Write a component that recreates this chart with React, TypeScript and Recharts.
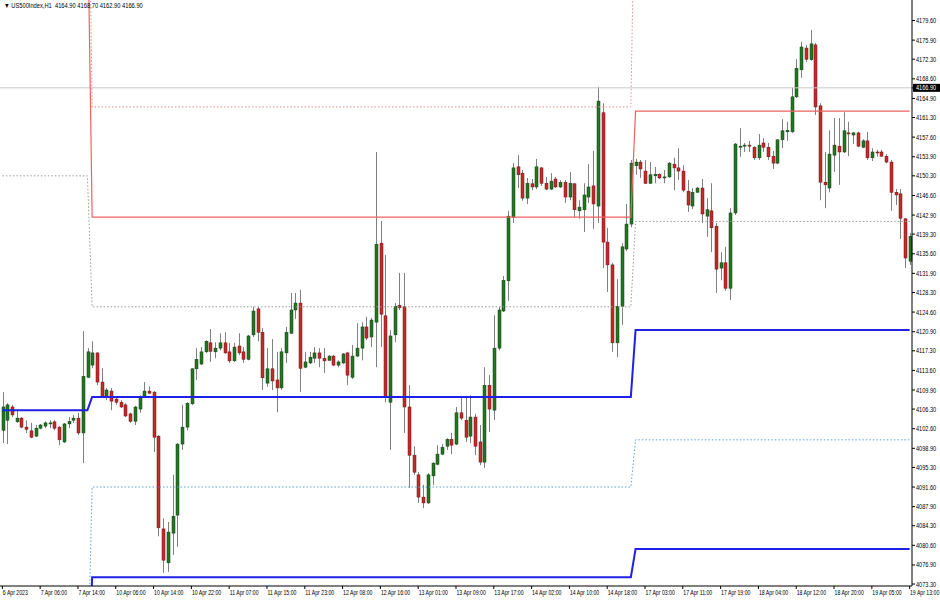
import React from 'react';
import { ComposedChart, Bar, Line, XAxis, YAxis, ReferenceLine } from 'recharts';

// ---- H1 candles (bar 0 .. 192) ----
const OPEN = [
  4102.3, 4104.2, 4106.7, 4103.9, 4104.6, 4102.9, 4102.2, 4101.2, 4102.7, 4103.1,
  4103.5, 4103.9, 4102.9, 4100.1, 4103.5, 4104.2, 4104.6, 4101.8, 4112.3, 4114.6,
  4116.9, 4111.4, 4108.6, 4109.7, 4108.2, 4107.6, 4107.1, 4105.4, 4104.0, 4106.3,
  4108.8, 4109.7, 4109.5, 4101.2, 4083.7, 4077.3, 4082.9, 4086.3, 4099.7, 4102.9,
  4107.3, 4113.9, 4114.8, 4117.1, 4118.8, 4117.1, 4117.8, 4118.8, 4117.1, 4115.4,
  4118.2, 4117.1, 4115.7, 4120.3, 4125.2, 4120.8, 4111.2, 4113.9, 4111.8, 4110.3,
  4116.9, 4120.6, 4125.0, 4126.3, 4114.2, 4115.0, 4115.9, 4116.9, 4115.9, 4115.5,
  4116.3, 4114.6, 4115.0, 4116.9, 4112.3, 4116.3, 4117.8, 4121.8, 4119.9, 4122.7,
  4137.6, 4123.9, 4107.6, 4120.3, 4125.9, 4125.6, 4106.7, 4097.6, 4093.9, 4089.7,
  4088.6, 4093.7, 4095.9, 4097.8, 4099.3, 4100.6, 4099.7, 4105.6, 4104.2, 4101.2,
  4104.8, 4100.1, 4096.3, 4110.8, 4106.1, 4117.8, 4124.8, 4130.5, 4142.5, 4152.0,
  4150.8, 4146.1, 4148.8, 4148.2, 4151.8, 4148.9, 4147.8, 4149.7, 4148.2, 4149.1,
  4146.3, 4148.8, 4143.7, 4143.9, 4146.3, 4148.4, 4144.6, 4162.2, 4137.8, 4133.5,
  4118.8, 4125.7, 4136.5, 4141.2, 4152.2, 4152.9, 4151.2, 4148.9, 4150.3, 4150.6,
  4149.9, 4150.1, 4152.5, 4151.8, 4151.2, 4147.4, 4144.6, 4147.2, 4148.0, 4142.7,
  4143.7, 4140.8, 4132.9, 4133.9, 4129.1, 4143.3, 4155.7, 4155.9, 4156.1, 4155.7,
  4153.7, 4156.5, 4155.7, 4154.0, 4152.7, 4157.1, 4158.6, 4158.6, 4165.2, 4170.3,
  4174.4, 4172.2, 4175.0, 4163.5, 4149.1, 4148.0, 4154.2, 4155.9, 4154.8, 4158.4,
  4158.0, 4158.4, 4155.7, 4156.9, 4153.7, 4154.8, 4154.8, 4154.0, 4152.9, 4147.2,
  4146.9, 4142.2, 4134.2,
];
const HIGH = [
  4109.5, 4107.4, 4107.1, 4106.1, 4104.8, 4104.2, 4103.7, 4103.3, 4103.5, 4104.0,
  4104.2, 4104.2, 4103.1, 4103.7, 4104.8, 4105.2, 4105.6, 4121.0, 4117.8, 4119.1,
  4117.0, 4114.0, 4110.3, 4110.3, 4108.6, 4108.0, 4107.4, 4105.6, 4106.9, 4108.9,
  4111.4, 4110.6, 4109.7, 4101.4, 4085.7, 4085.0, 4093.9, 4099.9, 4107.1, 4107.6,
  4114.0, 4117.8, 4118.0, 4119.3, 4121.4, 4118.9, 4120.6, 4120.8, 4118.8, 4118.8,
  4120.6, 4118.0, 4120.3, 4125.6, 4125.6, 4121.6, 4117.8, 4119.5, 4117.1, 4117.8,
  4121.8, 4128.2, 4128.2, 4128.8, 4117.1, 4117.1, 4118.0, 4117.8, 4117.8, 4116.5,
  4116.5, 4115.5, 4116.9, 4117.1, 4118.4, 4122.5, 4122.7, 4123.7, 4123.5, 4154.8,
  4141.8, 4135.4, 4121.2, 4126.3, 4132.0, 4132.0, 4110.8, 4099.3, 4094.4, 4092.0,
  4094.2, 4096.3, 4099.5, 4099.7, 4100.8, 4101.8, 4106.7, 4108.8, 4108.4, 4108.9,
  4105.4, 4103.3, 4114.2, 4112.7, 4124.0, 4125.6, 4131.4, 4143.7, 4152.7, 4154.2,
  4151.4, 4149.9, 4149.7, 4153.5, 4152.0, 4150.1, 4150.8, 4150.1, 4149.5, 4149.5,
  4151.0, 4148.9, 4145.7, 4148.9, 4152.5, 4155.0, 4167.1, 4164.0, 4140.5, 4133.9,
  4130.8, 4137.6, 4145.0, 4153.3, 4153.5, 4153.3, 4153.3, 4152.9, 4152.0, 4150.8,
  4151.4, 4152.9, 4153.7, 4155.5, 4152.3, 4149.5, 4148.0, 4148.2, 4149.7, 4146.1,
  4148.9, 4141.4, 4135.9, 4136.9, 4144.2, 4156.5, 4159.3, 4156.5, 4156.9, 4155.9,
  4158.2, 4157.4, 4156.5, 4155.0, 4157.2, 4161.0, 4160.5, 4166.9, 4172.3, 4175.6,
  4175.0, 4177.8, 4175.4, 4164.0, 4154.8, 4158.9, 4161.2, 4161.2, 4162.3, 4160.5,
  4158.6, 4158.6, 4157.2, 4158.6, 4155.5, 4155.2, 4155.2, 4154.4, 4153.3, 4147.8,
  4147.8, 4142.3, 4139.5,
];
const LOW = [
  4099.9, 4099.7, 4104.8, 4103.7, 4102.7, 4101.8, 4100.8, 4101.0, 4102.5, 4102.7,
  4102.7, 4102.3, 4099.5, 4099.9, 4102.7, 4103.7, 4101.4, 4096.1, 4112.2, 4114.0,
  4110.8, 4108.4, 4108.0, 4106.1, 4107.1, 4106.5, 4104.8, 4103.7, 4103.3, 4105.6,
  4108.4, 4109.1, 4098.2, 4082.3, 4075.4, 4075.6, 4078.8, 4080.3, 4098.6, 4102.3,
  4107.1, 4111.8, 4114.6, 4116.9, 4115.2, 4115.9, 4117.4, 4116.7, 4115.0, 4115.2,
  4116.5, 4115.0, 4115.5, 4119.9, 4119.1, 4109.9, 4110.5, 4109.9, 4105.7, 4109.9,
  4115.0, 4120.5, 4123.3, 4109.5, 4114.0, 4114.8, 4115.0, 4114.2, 4113.1, 4115.4,
  4114.4, 4114.2, 4114.8, 4110.8, 4112.0, 4116.1, 4115.5, 4119.3, 4118.0, 4114.2,
  4118.0, 4107.6, 4098.6, 4118.9, 4125.0, 4101.8, 4091.4, 4093.9, 4088.6, 4087.6,
  4088.4, 4092.0, 4095.7, 4097.6, 4098.6, 4097.8, 4099.5, 4104.2, 4100.1, 4099.9,
  4097.6, 4095.7, 4095.2, 4102.0, 4104.2, 4117.4, 4124.6, 4126.7, 4141.4, 4148.0,
  4145.6, 4145.0, 4147.6, 4147.8, 4148.4, 4147.6, 4147.6, 4148.0, 4148.0, 4145.2,
  4145.7, 4142.5, 4142.2, 4139.7, 4145.2, 4140.3, 4141.4, 4132.9, 4128.4, 4117.1,
  4116.1, 4122.2, 4136.1, 4140.6, 4150.5, 4149.9, 4148.8, 4148.8, 4148.9, 4149.7,
  4148.9, 4149.9, 4147.6, 4149.5, 4147.2, 4143.5, 4144.0, 4147.1, 4141.4, 4138.8,
  4135.9, 4128.2, 4130.6, 4128.6, 4126.9, 4142.9, 4153.9, 4154.8, 4154.8, 4153.3,
  4153.3, 4154.8, 4153.3, 4151.6, 4152.5, 4155.5, 4156.9, 4158.4, 4165.0, 4168.8,
  4171.8, 4172.0, 4161.8, 4145.7, 4144.2, 4147.2, 4151.0, 4148.6, 4154.6, 4154.0,
  4156.3, 4155.7, 4155.5, 4153.3, 4153.1, 4153.9, 4153.9, 4152.7, 4143.7, 4144.8,
  4138.4, 4132.9, 4133.5,
];
const CLOSE = [
  4106.7, 4107.1, 4105.2, 4104.6, 4102.9, 4102.5, 4101.0, 4102.7, 4103.3, 4103.7,
  4103.7, 4102.7, 4100.5, 4103.5, 4104.0, 4104.6, 4101.8, 4112.5, 4117.1, 4116.9,
  4111.4, 4108.6, 4109.9, 4107.8, 4107.6, 4106.7, 4105.0, 4104.0, 4106.7, 4108.4,
  4109.7, 4109.3, 4101.0, 4083.9, 4077.8, 4083.1, 4086.1, 4099.7, 4102.9, 4107.4,
  4113.9, 4115.7, 4117.1, 4119.1, 4117.2, 4117.8, 4118.8, 4116.9, 4115.4, 4118.0,
  4116.9, 4115.7, 4120.1, 4124.8, 4120.8, 4112.2, 4113.9, 4111.6, 4110.3, 4117.1,
  4120.8, 4125.0, 4126.3, 4114.0, 4115.2, 4116.1, 4116.9, 4115.9, 4115.4, 4116.3,
  4114.6, 4115.2, 4116.7, 4112.7, 4116.3, 4117.8, 4121.8, 4119.7, 4123.1, 4137.4,
  4124.2, 4108.6, 4120.1, 4125.7, 4125.4, 4106.7, 4097.6, 4094.4, 4089.7, 4088.6,
  4093.9, 4096.1, 4097.8, 4099.1, 4100.6, 4099.5, 4105.6, 4104.6, 4101.0, 4104.8,
  4099.3, 4096.3, 4110.8, 4106.3, 4117.8, 4125.0, 4130.6, 4142.7, 4151.8, 4150.5,
  4146.1, 4148.9, 4148.2, 4152.0, 4148.9, 4147.8, 4149.3, 4148.2, 4149.1, 4146.3,
  4148.9, 4143.9, 4144.4, 4146.7, 4148.2, 4145.0, 4164.4, 4137.8, 4133.5, 4118.8,
  4125.7, 4136.9, 4141.2, 4152.7, 4152.9, 4151.6, 4148.9, 4150.5, 4150.6, 4149.9,
  4150.1, 4152.7, 4151.8, 4151.2, 4147.6, 4144.8, 4147.2, 4148.0, 4143.1, 4143.9,
  4140.5, 4132.7, 4133.9, 4129.1, 4143.3, 4156.3, 4155.9, 4156.1, 4155.9, 4153.7,
  4156.1, 4155.7, 4153.9, 4152.7, 4157.1, 4158.8, 4158.9, 4165.2, 4170.6, 4174.6,
  4172.3, 4175.2, 4163.3, 4149.1, 4148.6, 4154.4, 4156.1, 4154.8, 4158.8, 4158.2,
  4158.4, 4155.9, 4156.9, 4153.7, 4154.8, 4154.7, 4154.0, 4152.9, 4147.2, 4146.7,
  4142.3, 4134.8, 4138.9,
];

// ---- time axis labels (one every 8 bars) ----
const X_LABELS = [
  '6 Apr 2023', '7 Apr 06:00', '7 Apr 14:00', '10 Apr 06:00', '10 Apr 14:00',
  '10 Apr 22:00', '11 Apr 07:00', '11 Apr 15:00', '11 Apr 23:00', '12 Apr 08:00',
  '12 Apr 16:00', '13 Apr 01:00', '13 Apr 09:00', '13 Apr 17:00', '14 Apr 02:00',
  '14 Apr 10:00', '14 Apr 18:00', '17 Apr 03:00', '17 Apr 11:00', '17 Apr 19:00',
  '18 Apr 04:00', '18 Apr 12:00', '18 Apr 20:00', '19 Apr 05:00', '19 Apr 13:00',
];
const X_LABEL_STEP = 8;

// ---- price scale ----
const Y_TICKS = [
  4179.6, 4175.9, 4172.3, 4168.6, 4164.9, 4161.3, 4157.6, 4153.9, 4150.3, 4146.6,
  4142.9, 4139.3, 4135.6, 4131.9, 4128.3, 4124.6, 4120.9, 4117.3, 4113.6, 4109.9,
  4106.3, 4102.6, 4098.9, 4095.3, 4091.6, 4087.9, 4084.3, 4080.6, 4076.9, 4073.3,
];
const Y_DOMAIN = [4072.93, 4183.47];
const BID = 4166.9;
const HEADER = 'US500Index,H1  4164.90 4168.70 4162.90 4166.90';

// ---- indicator levels (periods start at these bars) ----
const LEVEL_START = [0, 19, 134];
const RED_SOLID = [4203.0, 4142.5, 4162.5];
const RED_DOT = [4230.0, 4163.3, 4215.0];
const GREY_DOT = [4150.3, 4125.6, 4141.7];
const BLUE_SOLID = [4106.1, 4108.6, 4121.2];
const BLUE_DOT = [4055.0, 4091.6, 4100.5];
const BLUE_LOW = [4050.0, 4074.6, 4079.9];

function levelAt(levels: number[], i: number) {
  let k = 0;
  for (let j = 0; j < LEVEL_START.length; j++) if (i >= LEVEL_START[j]) k = j;
  return levels[k];
}

const data = OPEN.map((o, i) => ({
  i,
  open: o,
  high: HIGH[i],
  low: LOW[i],
  close: CLOSE[i],
  range: [LOW[i], HIGH[i]],
  redSolid: levelAt(RED_SOLID, i),
  redDot: levelAt(RED_DOT, i),
  greyDot: levelAt(GREY_DOT, i),
  blueSolid: levelAt(BLUE_SOLID, i),
  blueDot: levelAt(BLUE_DOT, i),
  blueLow: levelAt(BLUE_LOW, i),
}));

const X_TICKS = X_LABELS.map((_, k) => k * X_LABEL_STEP);

const FONT = '"Liberation Sans", Arial, sans-serif';
const BULL = '#237523';
const BULL_EDGE = '#124012';
const BEAR = '#c42a2a';
const BEAR_EDGE = '#6e1414';
const WICK = '#808080';

const Candle = (props: any) => {
  const { x, y, width, height, payload } = props;
  if (!payload) return null;
  const { open, close, high, low } = payload;
  const top = Math.min(y, y + height);
  const h = Math.abs(height);
  const cx = Math.round(x + width / 2) + 0.5;
  const ppu = high > low ? h / (high - low) : 0;
  const bTop = top + (high - Math.max(open, close)) * ppu;
  const bH = Math.max(Math.abs(open - close) * ppu, 1);
  const up = close >= open;
  return (
    <g>
      <line x1={cx} x2={cx} y1={top} y2={top + h} stroke={WICK} strokeWidth={1} />
      <rect
        x={cx - 1.5}
        y={bTop}
        width={3}
        height={bH}
        fill={up ? BULL : BEAR}
        stroke={up ? BULL_EDGE : BEAR_EDGE}
        strokeWidth={0.5}
      />
    </g>
  );
};

const XTick = (props: any) => {
  const { x, y, payload } = props;
  const idx = Math.round(payload.value / X_LABEL_STEP);
  const label = X_LABELS[idx];
  if (label === undefined) return null;
  const tx = Math.min(x + 0.5, 910);
  return (
    <g>
      <line x1={x} x2={x} y1={y - 2} y2={y + 1} stroke="#000" strokeWidth={1} />
      <text
        transform={`translate(${tx},${y + 6.5}) scale(0.74,1)`}
        fontSize={7}
        fontFamily={FONT}
        fill="#000"
      >
        {label}
      </text>
    </g>
  );
};

const YTick = (props: any) => {
  const { x, y, payload } = props;
  const v = payload.value as number;
  const isBid = Math.abs(v - BID) < 0.001;
  return (
    <g>
      {isBid && <rect x={x - 3} y={y - 4} width={940 - x + 3} height={8} fill="#000" />}
      <text
        transform={`translate(${x},${y + 2.5}) scale(0.8,1)`}
        fontSize={7}
        fontFamily={FONT}
        fill={isBid ? '#fff' : '#000'}
      >
        {v.toFixed(2)}
      </text>
    </g>
  );
};

const lineCommon = { type: 'linear' as const, dot: false, activeDot: false, isAnimationActive: false, legendType: 'none' as const };

export default function App() {
  return (
    <div style={{ position: 'absolute', left: 0, top: 0, width: 940, height: 600, background: '#fff' }}>
      <ComposedChart
        width={940}
        height={600}
        data={data}
        margin={{ top: 0, right: 0, bottom: 0, left: 0 }}
        barCategoryGap={0}
        accessibilityLayer={false}
      >
        <XAxis
          dataKey="i"
          type="category"
          ticks={X_TICKS}
          interval={0}
          height={14}
          tickSize={2}
          tickMargin={0}
          tickLine={false}
          axisLine={{ stroke: '#000', strokeWidth: 1 }}
          tick={<XTick />}
        />
        <YAxis
          orientation="right"
          width={28}
          type="number"
          domain={Y_DOMAIN}
          allowDataOverflow
          ticks={[...Y_TICKS, BID]}
          interval={0}
          tickSize={3}
          tickMargin={1}
          tickLine={{ stroke: '#000' }}
          axisLine={{ stroke: '#000', strokeWidth: 1 }}
          tick={<YTick />}
        />
        <ReferenceLine y={BID} stroke="#c8c8c8" strokeWidth={1} />
        <Line dataKey="greyDot" {...lineCommon} stroke="#9a9a9a" strokeWidth={1} strokeDasharray="1.5 2" />
        <Line dataKey="redDot" {...lineCommon} stroke="#f08a8a" strokeWidth={1} strokeDasharray="1.5 2" />
        <Line dataKey="redSolid" {...lineCommon} stroke="#f06262" strokeWidth={1.2} />
        <Line dataKey="blueDot" {...lineCommon} stroke="#5b9fe0" strokeWidth={1} strokeDasharray="1.5 2" />
        <Line dataKey="blueSolid" {...lineCommon} stroke="#2020e6" strokeWidth={2} />
        <Line dataKey="blueLow" {...lineCommon} stroke="#2020e6" strokeWidth={2} />
        <Bar dataKey="range" barSize={3} shape={<Candle />} isAnimationActive={false} />
      </ComposedChart>
      <div
        style={{
          position: 'absolute',
          left: 4,
          top: 2,
          fontSize: 7,
          fontFamily: FONT,
          color: '#000',
          whiteSpace: 'pre',
          transform: 'scale(0.82,1)',
          transformOrigin: 'left top',
          lineHeight: '8px',
        }}
      >
        {'\u25BC ' + HEADER}
      </div>
    </div>
  );
}
